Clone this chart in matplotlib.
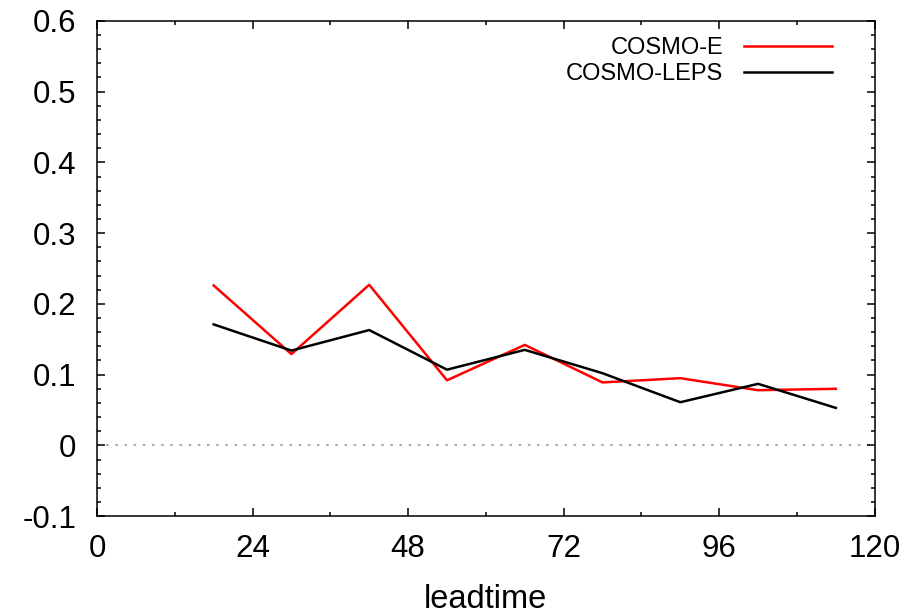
import numpy as np
import matplotlib.pyplot as plt
from matplotlib.ticker import MultipleLocator

# data
leadtime = [18, 30, 42, 54, 66, 78, 90, 102, 114]
cosmo_e = [0.226, 0.129, 0.227, 0.092, 0.142, 0.089, 0.095, 0.078, 0.080]
cosmo_leps = [0.171, 0.134, 0.163, 0.107, 0.135, 0.102, 0.061, 0.087, 0.053]

plt.rcParams['font.family'] = ['Liberation Sans', 'DejaVu Sans']

fig = plt.figure(figsize=(9.15, 6.13), dpi=100)
ax = fig.add_axes([0.106, 0.158, 0.850, 0.808])

ax.axhline(0, color='#999999', lw=1.2, ls=(0, (1.5, 4)), zorder=1)
ax.plot(leadtime, cosmo_e, color='#ff0000', lw=1.8, label='COSMO-E')
ax.plot(leadtime, cosmo_leps, color='black', lw=1.8, label='COSMO-LEPS')

ax.set_xlim(0, 120)
ax.set_ylim(-0.1, 0.6)
ax.xaxis.set_major_locator(MultipleLocator(24))
ax.xaxis.set_minor_locator(MultipleLocator(12))
ax.yaxis.set_minor_locator(MultipleLocator(0.02))
ax.set_yticks([-0.1, 0, 0.1, 0.2, 0.3, 0.4, 0.5, 0.6])
ax.set_yticklabels(['-0.1', '0', '0.1', '0.2', '0.3', '0.4', '0.5', '0.6'])

ax.tick_params(which='both', direction='in', top=True, right=True, width=1.1)
ax.tick_params(which='major', length=6, labelsize=22.5)
ax.tick_params(which='minor', length=3)
ax.tick_params(axis='x', pad=13)
ax.tick_params(axis='y', pad=15)
for s in ax.spines.values():
    s.set_linewidth(1.1)

ax.set_xlabel('leadtime', fontsize=23.5, labelpad=14)

ax.legend(loc='upper right', frameon=False, markerfirst=False, fontsize=17,
          handlelength=3.7, handletextpad=0.9, labelspacing=0.15,
          borderaxespad=0.3, bbox_to_anchor=(0.966, 1.0))

fig.savefig('out.png', dpi=100)
